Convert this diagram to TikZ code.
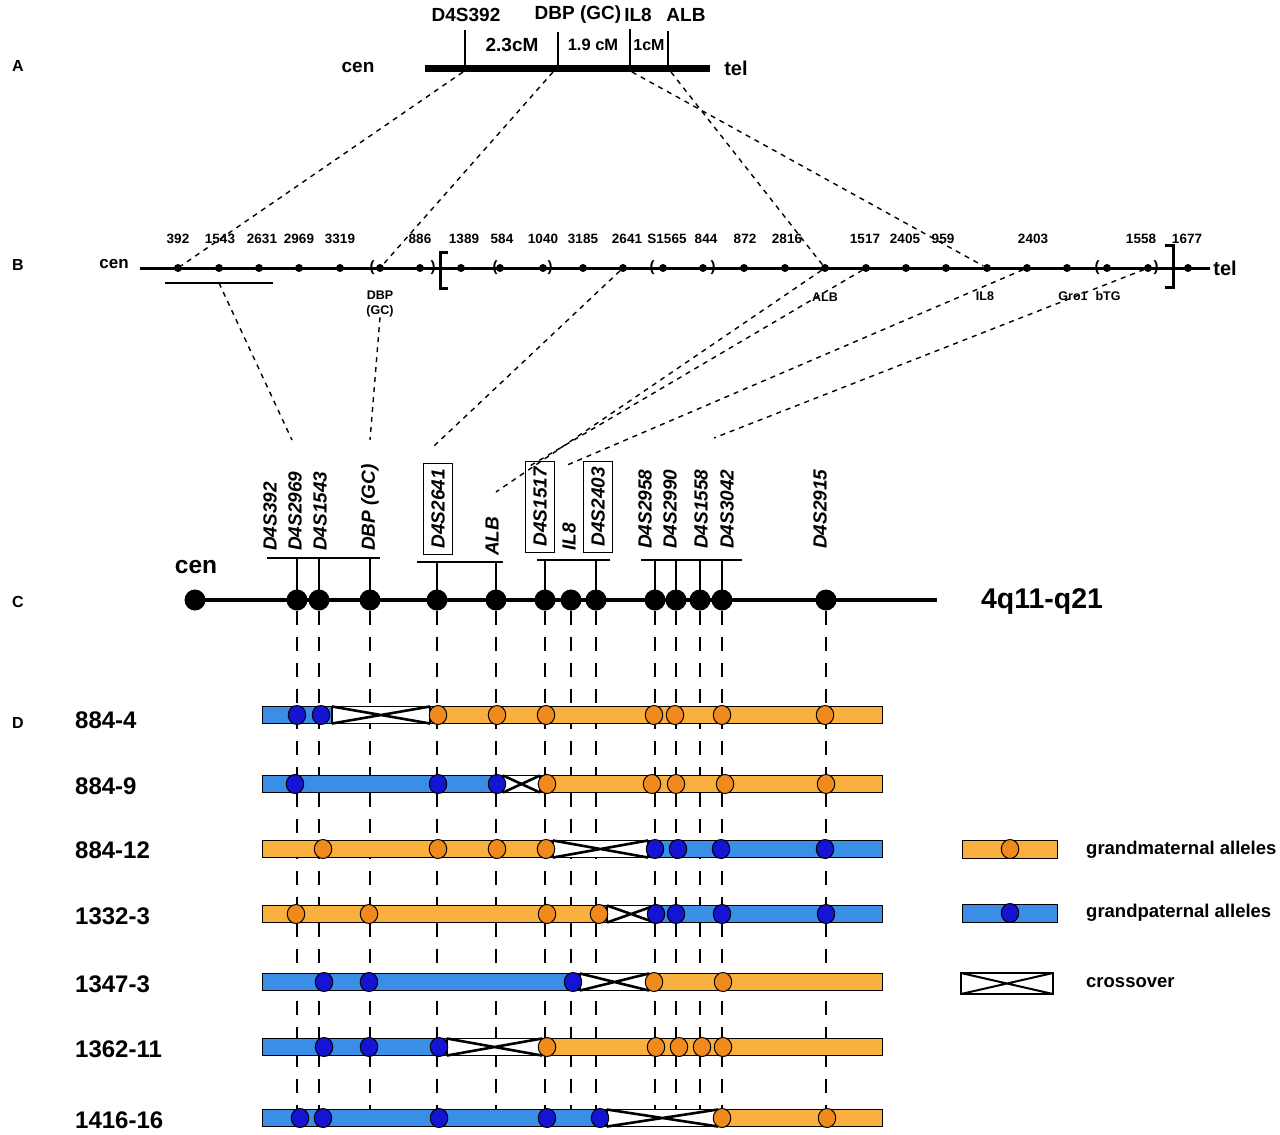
\documentclass[tikz,border=0pt]{standalone}
\usepackage{fontspec}
\setmainfont{Liberation Sans}
\usetikzlibrary{shapes.geometric}
\newcommand\fsz[1]{\fontsize{#1}{#1}\selectfont}
\definecolor{orbar}{HTML}{F9B03E}
\definecolor{ordot}{HTML}{F08A1C}
\definecolor{blbar}{HTML}{3A8EE6}
\definecolor{bldot}{HTML}{1414D2}
\newcommand\chrow[5]{%
  \draw[line width=1pt, fill=#2] (262,#1-8.5) rectangle (#3,#1+8.5);
  \draw[line width=1pt, fill=#5] (#4,#1-8.5) rectangle (882,#1+8.5);
  \draw[line width=1.8pt, fill=white] (#3,#1-8.5) rectangle (#4,#1+8.5);
  \draw[line width=2.6pt] (#3,#1-8.5) -- (#4,#1+8.5) (#3,#1+8.5) -- (#4,#1-8.5);
}
\begin{document}
\begin{tikzpicture}[x=1pt,y=-1pt,
  txt/.style={inner sep=0pt, font=\bfseries\fsz{#1}},
  txt/.default=19,
  bdot/.style={circle, fill=black, inner sep=0pt, minimum size=8pt},
  cdot/.style={circle, fill=black, inner sep=0pt, minimum size=21pt},
  conn/.style={line width=1.4pt, dash pattern=on 5pt off 5pt},
  vdash/.style={line width=1.5pt, dash pattern=on 14pt off 12pt},
  tick/.style={line width=1.3pt},
  clab/.style={rotate=90, anchor=west, inner sep=0pt, font=\bfseries\itshape\fsz{19}},
  cbox/.style={clab, draw, line width=1.2pt, inner xsep=6pt, inner ysep=8pt},
  odot/.style={ellipse, draw, line width=1pt, fill=ordot, minimum width=17.5pt, minimum height=19pt, inner sep=0pt},
  bldt/.style={ellipse, draw, line width=1pt, fill=bldot, minimum width=17.5pt, minimum height=19pt, inner sep=0pt},
  paren/.style={inner sep=0pt, font=\bfseries\fsz{15}}
]
\useasboundingbox (0,0) rectangle (1280,1135);

% ---------------- A ----------------
\node[txt=16] (labA) at (18,66) {A};
\node[txt=19] (cenA) at (358,67) {cen};
\node[txt=20] (telA) at (736,68) {tel};
\draw[line width=7pt] (425,68) -- (710,68);
\draw[tick] (465,30) -- (465,68);
\draw[tick] (558,32) -- (558,68);
\draw[tick] (630,29) -- (630,68);
\draw[tick] (668,31) -- (668,68);
\node[txt=19] (tD4S392) at (466,15) {D4S392};
\node[txt=19] (tDBP) at (578,15) {DBP (GC)};
\node[txt=19] (tIL8) at (638,15) {IL8};
\node[txt=19] (tALB) at (686,15) {ALB};
\node[txt=19] (cm1) at (512,45) {2.3cM};
\node[txt=16.5] (cm2) at (593,45) {1.9 cM};
\node[txt=16] (cm3) at (649,45) {1cM};
\coordinate (a392) at (463,72);
\coordinate (adbp) at (553,72);
\coordinate (ail8) at (632,72);
\coordinate (aalb) at (671,72);

% ---------------- B ----------------
\node[txt=16] (labB) at (18,265) {B};
\node[txt=17] (cenB) at (114,264) {cen};
\node[txt=20] (telB) at (1225,268) {tel};
\draw[line width=3pt] (140,268) -- (1210,268);
\foreach \x [count=\i] in {178,219,259,299,340,380,420,461,500,543,583,623,663,703,744,785,825,866,906,946,987,1027,1067,1107,1148,1188}
  \node[bdot] (b\i) at (\x,268) {};
\foreach \x/\t [count=\i] in {178/392,220/1543,262/2631,299/2969,340/3319,420/886,464/1389,502/584,543/1040,583/3185,627/2641,667/S1565,706/844,745/872,787/2816,865/1517,905/2405,943/959,1033/2403,1141/1558,1187/1677}
  \node[txt=13.5] (bn\i) at (\x,239) {\t};
\node[paren] (p1) at (372,268) {(};
\node[paren] (p2) at (433,268) {)};
\node[paren] (p3) at (495,268) {(};
\node[paren] (p4) at (550,268) {)};
\node[paren] (p5) at (652,268) {(};
\node[paren] (p6) at (713,268) {)};
\node[paren] (p7) at (1097,268) {(};
\node[paren] (p8) at (1156,268) {)};
\draw[line width=3pt] (448,252) -- (440,252) -- (440,288) -- (448,288);
\draw[line width=3pt] (1165,245) -- (1173,245) -- (1173,287) -- (1165,287);
\draw[line width=1.3pt] (165,283) -- coordinate[midway] (ul) (273,283);
\node[inner sep=0pt, align=center, font=\bfseries\fontsize{12.5}{15}\selectfont] (dbpB) at (380,304) {DBP\\(GC)};
\node[txt=12.5] (albB) at (825,297) {ALB};
\node[txt=12.5] (il8B) at (985,296) {IL8};
\node[txt=12.5] (groB) at (1073,296) {Gro1};
\node[txt=12.5] (btgB) at (1108,296) {bTG};

% A-B connectors
\draw[conn] (a392) -- (b1);
\draw[conn] (adbp) -- (b6);
\draw[conn] (ail8) -- (b21);
\draw[conn] (aalb) -- (b17);

% B-C connectors
\coordinate (cl1) at (292,440);
\coordinate (cl2) at (370,440);
\coordinate (cl3) at (434,446);
\coordinate (cl4) at (496,492);
\coordinate (cl5) at (528,467);
\coordinate (cl6) at (565,466);
\coordinate (cl7) at (714,438);
\draw[conn] (ul) -- (cl1);
\draw[conn] (dbpB.south) -- (cl2);
\draw[conn] (b12) -- (cl3);
\draw[conn] (b17) -- (cl4);
\draw[conn] (b18) -- (cl5);
\draw[conn] (b22) -- (cl6);
\draw[conn] (b25) -- (cl7);

% ---------------- C ----------------
\node[txt=16] (labC) at (18,602) {C};
\node[txt=24.5] (cenC) at (196,567) {cen};
\node[txt=28.5] (qC) at (1042,602) {4q11-q21};
\draw[line width=4pt] (195,600) -- (937,600);
\foreach \x [count=\i] in {195,297,319,370,437,496,545,571,596,655,676,700,722,826}
  \node[cdot] (c\i) at (\x,600) {};
\coordinate (g1) at (267,558);
\coordinate (g2) at (417,562);
\coordinate (g3) at (537,560);
\coordinate (g4) at (641,560);
\draw[tick] (g1) -- (380,558);
\draw[tick] (g2) -- (503,562);
\draw[tick] (g3) -- (610,560);
\draw[tick] (g4) -- (742,560);
\foreach \i in {2,3,4} \draw[tick] (c\i.center) -- (c\i |- g1);
\foreach \i in {5,6} \draw[tick] (c\i.center) -- (c\i |- g2);
\foreach \i in {7,9} \draw[tick] (c\i.center) -- (c\i |- g3);
\foreach \i in {10,11,12,13} \draw[tick] (c\i.center) -- (c\i |- g4);
\node[clab] (l1) at (270,551) {D4S392};
\node[clab] (l2) at (295,551) {D4S2969};
\node[clab] (l3) at (320,551) {D4S1543};
\node[clab] (l4) at (370,551) {DBP (GC)};
\node[cbox] (l5) at (438,555) {D4S2641};
\node[clab] (l6) at (492,556) {ALB};
\node[cbox] (l7) at (540,553) {D4S1517};
\node[clab] (l8) at (569,551) {IL8};
\node[cbox] (l9) at (598,553) {D4S2403};
\node[clab] (l10) at (645,549) {D4S2958};
\node[clab] (l11) at (670,549) {D4S2990};
\node[clab] (l12) at (701,549) {D4S1558};
\node[clab] (l13) at (727,549) {D4S3042};
\node[clab] (l14) at (820,549) {D4S2915};

% ---------------- D ----------------
\node[txt=16] (labD) at (18,723) {D};
\foreach \i in {2,...,14} \draw[vdash] (c\i.south) -- ++(0,500);

\node[txt=24, anchor=west] (r1l) at (75,720) {884-4};
\node[txt=24, anchor=west] (r2l) at (75,786) {884-9};
\node[txt=24, anchor=west] (r3l) at (75,850) {884-12};
\node[txt=24, anchor=west] (r4l) at (75,916) {1332-3};
\node[txt=24, anchor=west] (r5l) at (75,984) {1347-3};
\node[txt=24, anchor=west] (r6l) at (75,1049) {1362-11};
\node[txt=24, anchor=west] (r7l) at (75,1120) {1416-16};

\chrow{715}{blbar}{332}{430}{orbar}
\foreach \x in {297,321} \node[bldt] (r1b\x) at (\x,715) {};
\foreach \x in {438,497,546,654,675,722,825} \node[odot] (r1o\x) at (\x,715) {};

\chrow{784}{blbar}{503}{540}{orbar}
\foreach \x in {295,438,497} \node[bldt] (r2b\x) at (\x,784) {};
\foreach \x in {547,652,676,725,826} \node[odot] (r2o\x) at (\x,784) {};

\chrow{849}{orbar}{553}{648}{blbar}
\foreach \x in {323,438,497,546} \node[odot] (r3o\x) at (\x,849) {};
\foreach \x in {655,678,721,825} \node[bldt] (r3b\x) at (\x,849) {};

\chrow{914}{orbar}{607}{655}{blbar}
\foreach \x in {296,369,547,599} \node[odot] (r4o\x) at (\x,914) {};
\foreach \x in {656,676,722,826} \node[bldt] (r4b\x) at (\x,914) {};

\chrow{982}{blbar}{580}{649}{orbar}
\foreach \x in {324,369,573} \node[bldt] (r5b\x) at (\x,982) {};
\foreach \x in {654,723} \node[odot] (r5o\x) at (\x,982) {};

\chrow{1047}{blbar}{447}{542}{orbar}
\foreach \x in {324,369,439} \node[bldt] (r6b\x) at (\x,1047) {};
\foreach \x in {547,656,679,702,723} \node[odot] (r6o\x) at (\x,1047) {};

\chrow{1118}{blbar}{607}{718}{orbar}
\foreach \x in {300,323,439,547,600} \node[bldt] (r7b\x) at (\x,1118) {};
\foreach \x in {722,827} \node[odot] (r7o\x) at (\x,1118) {};

% ---------------- Legend ----------------
\draw[line width=1pt, fill=orbar] (962,840) rectangle (1057,858);
\node[odot] (lgo) at (1010,849) {};
\draw[line width=1pt, fill=blbar] (962,904) rectangle (1057,922);
\node[bldt] (lgb) at (1010,913) {};
\draw[line width=2.2pt, fill=white] (961,973) rectangle (1053,994);
\draw[line width=2pt] (961,973) -- (1053,994) (961,994) -- (1053,973);
\node[txt=18.5, anchor=west] (lgt1) at (1086,850) {grandmaternal alleles};
\node[txt=18.5, anchor=west] (lgt2) at (1086,913) {grandpaternal alleles};
\node[txt=18.5, anchor=west] (lgt3) at (1086,983) {crossover};
\end{tikzpicture}
\end{document}
